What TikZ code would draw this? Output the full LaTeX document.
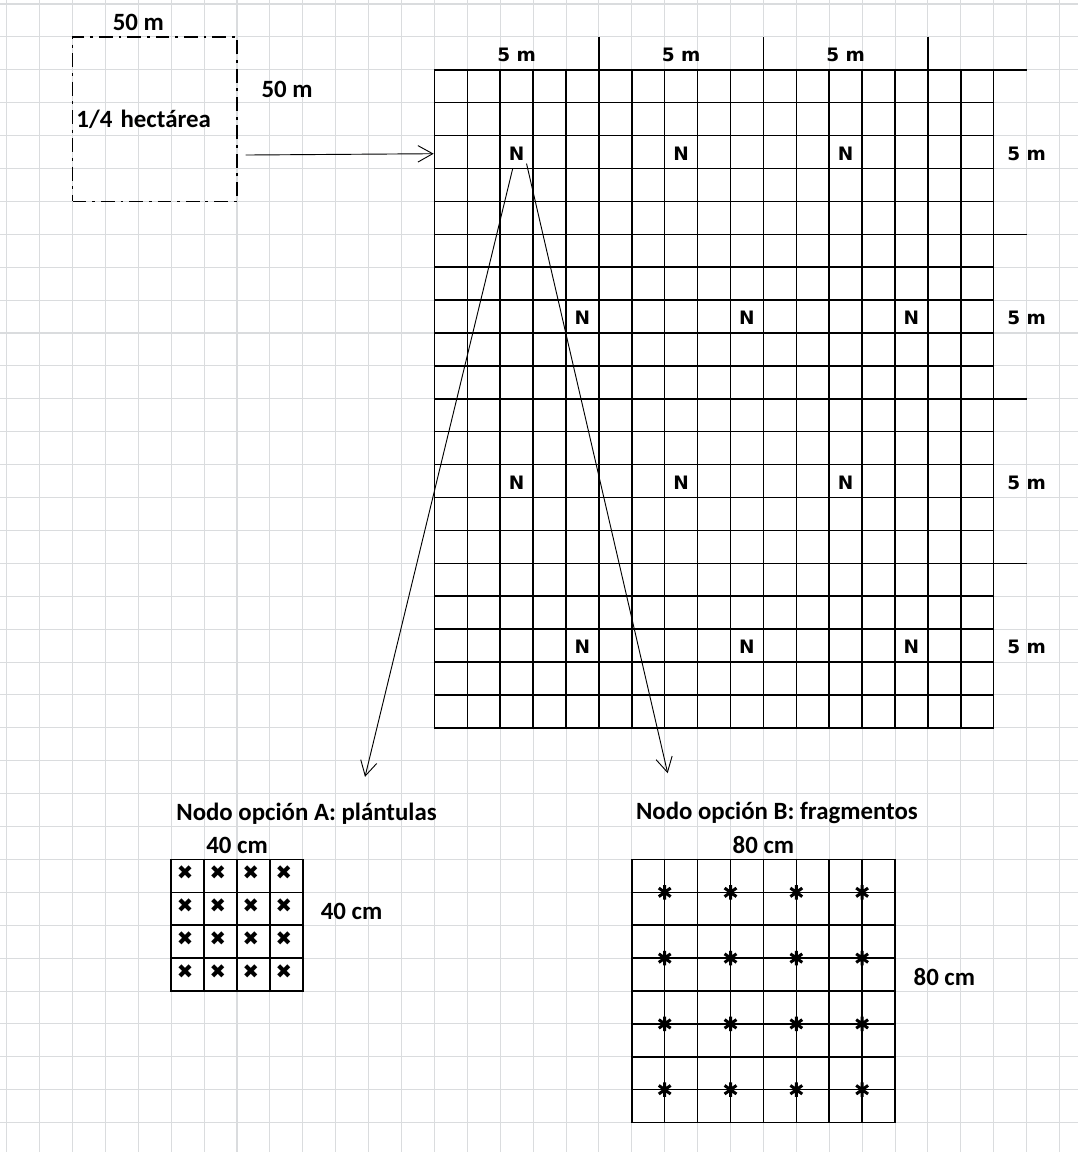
\documentclass[tikz,border=0pt]{standalone}
\usepackage{fontspec}
\setmainfont{Carlito}
\newfontfamily\tahoma{DejaVu Sans}
\usetikzlibrary{positioning, arrows.meta, calc}
\definecolor{hoja}{RGB}{218,220,222}

\begin{document}
\begin{tikzpicture}[>={Straight Barb[length=4.5mm,width=5mm]},
      font=\fontsize{21.5}{24}\selectfont\bfseries,
      fondo/.style ={draw=hoja, line width=0.9pt},
      malla/.style ={draw, line width=1.3pt},
      flecha/.style={->, line width=0.8pt},
      etq/.style   ={inner sep=0pt, font=\tahoma\fontsize{16}{18}\selectfont\bfseries},
      cruz/.style  ={inner sep=0pt, font=\tahoma\fontsize{17}{17}\selectfont},
      aster/.style ={line width=2.6pt}]
    % --- the spreadsheet page behind everything ---
    \useasboundingbox[fill=white] (-0.204,0.122) rectangle (32.562,-34.893);
    \draw[fondo, step=1] (-0.204,0.122) grid (32.562,-34.893);
    % --- TOP LEFT: the quarter hectare ---
    \node[draw, line width=1.2pt, dash pattern=on 12pt off 5pt on 2.5pt off 5pt,
          minimum size=5cm, inner xsep=0.12cm, text width=4.76cm, align=left] (hect) at (4.5,-3.5) {1/4 hectárea};
    \node[inner sep=0pt] (anchoH) at (4.0,-0.55) {50 m};
    \node[inner sep=0pt] (altoH)  at (8.52,-2.59) {50 m};
    % --- RIGHT: the plot, cut in 1 m cells ---
    \node[malla, minimum width=17cm, minimum height=20cm, inner sep=0pt] (parcela) at (21.5,-12) {};
    \foreach \k in {13,...,30} \draw[malla] (\k,-2) -- (\k,-22);
    \foreach \k in {2,...,22} \draw[malla] (13,-\k) -- (30,-\k);
    \foreach \x in {18,23,28} \draw[malla] (\x,-2) -- (\x,-1);
    \foreach \y in {2,7,12,17} \draw[malla] (30,-\y) -- (31,-\y);
    \foreach \x [count=\i] in {15.5,20.5,25.5} \node[etq] (sup\i) at (\x,-1.55) {5 m};
    \foreach \y [count=\i] in {4.55,9.55,14.55,19.55} \node[etq] (der\i) at (31,-\y) {5 m};
    \foreach \fila/\y/\dx in {1/4.55/0, 2/9.55/2, 3/14.55/0, 4/19.55/2}
      \foreach \x [count=\i] in {15.5,20.5,25.5}
        \node[etq] (n\fila\i) at (\x+\dx,-\y) {N};
    \draw[flecha] ($(hect.east |- n11)+(0.24,-0.04)$) -- (parcela.west |- n11);
    % --- from one node down to the two options ---
    \coordinate (finA) at (10.89,-23.49);
    \coordinate (finB) at (20.09,-23.38);
    \draw[flecha] ($(n11)+(-0.12,-0.45)$) -- (finA);
    \draw[flecha] ($(n11)+(0.3,-0.3)$) -- (finB);
    % --- BOTTOM LEFT: option A, seedlings ---
    \node[anchor=west, inner sep=0pt] (titA) at (5.15,-24.6) {Nodo opción A: plántulas};
    \node[inner sep=0pt] (anchoA) at (7,-25.56) {40 cm};
    \node[malla, minimum size=4cm, inner sep=0pt] (cuadA) at (7,-28) {};
    \foreach \k in {5,...,9} \draw[malla] (\k,-26) -- (\k,-30);
    \foreach \k in {26,...,30} \draw[malla] (5,-\k) -- (9,-\k);
    \node[inner sep=0pt] (altoA) at (10.48,-27.59) {40 cm};
    \foreach \i in {0,...,3}
      \foreach \j in {0,...,3}
        \node[cruz] (x\i\j) at (5.42+\i,-26.4-\j) {✖};
    % --- BOTTOM RIGHT: option B, fragments ---
    \node[anchor=west, inner sep=0pt] (titB) at (19.12,-24.6) {Nodo opción B: fragmentos};
    \node[inner sep=0pt] (anchoB) at (23,-25.56) {80 cm};
    \node[inner sep=0pt] (altoB) at (28.5,-29.56) {80 cm};
    \foreach \i in {0,...,3}
      \foreach \j in {0,...,3} {
        \coordinate (a\i\j) at (20+2*\i,-27-2*\j);
        \draw[aster, shift={(a\i\j)}] (0,0.22) -- (0,-0.22)
          (-0.18,0.13) -- (0.18,-0.13) (-0.18,-0.13) -- (0.18,0.13);
      }
    \node[malla, minimum size=8cm, inner sep=0pt] (cuadB) at (23,-30) {};
    \foreach \k in {19,20,...,27} \draw[malla] (\k,-26) -- (\k,-34);
    \foreach \k in {26,27,...,34} \draw[malla] (19,-\k) -- (27,-\k);
  \end{tikzpicture}
\end{document}
